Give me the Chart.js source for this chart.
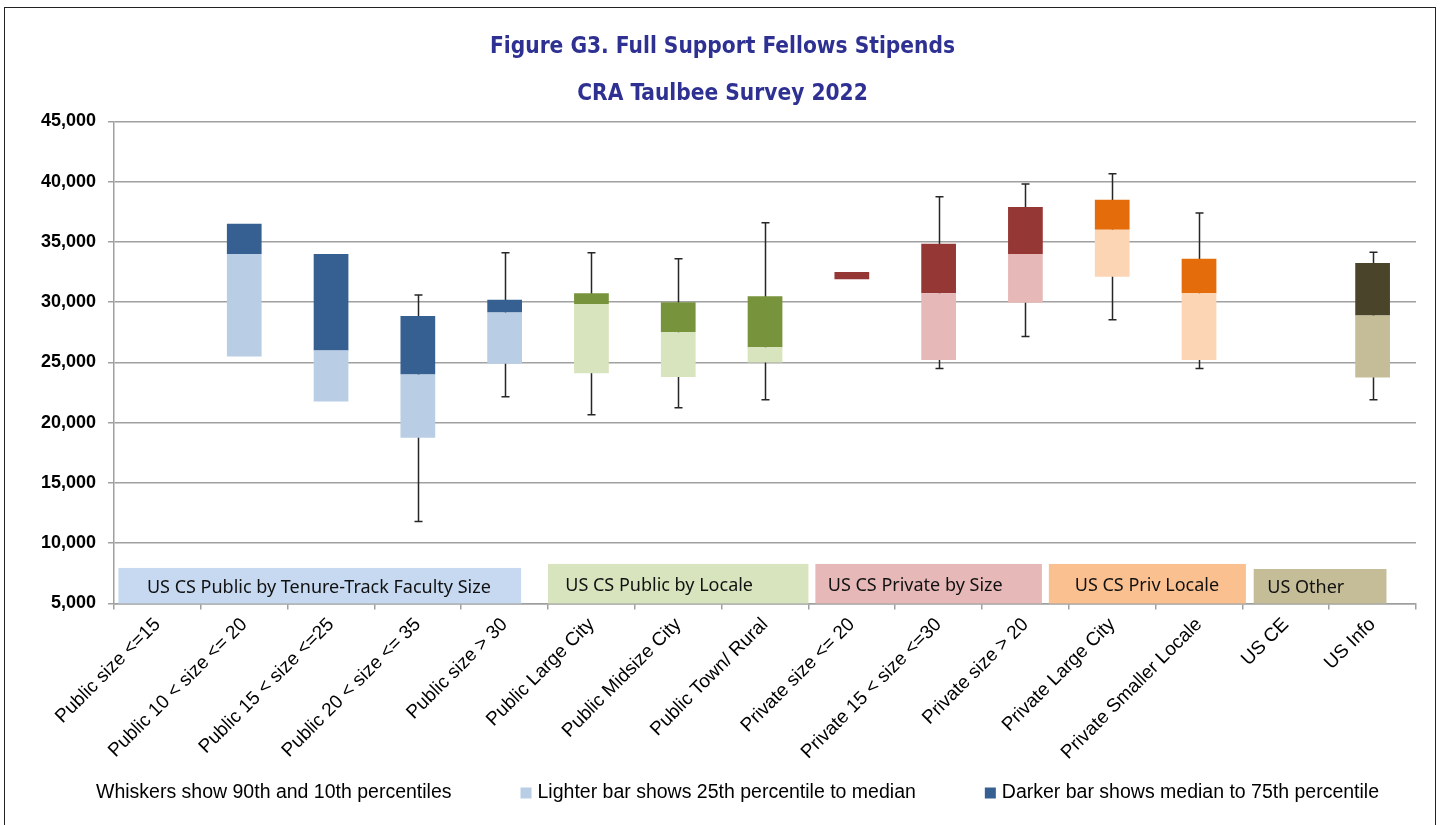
<!DOCTYPE html>
<html>
<head>
<meta charset="utf-8">
<script src="https://cdn.jsdelivr.net/npm/chart.js@4.4.0/dist/chart.umd.min.js"></script>
<style>
  html, body { margin: 0; padding: 0; background: #fff; }
  #wrap { position: relative; width: 1447px; height: 825px; overflow: hidden; }
  #frame { position: absolute; left: 4px; top: 7px; width: 1432px; height: 840px; border: 1.5px solid #222; pointer-events: none; box-sizing: border-box; }
</style>
</head>
<body>
<div id="wrap">
  <canvas id="stipendChart" width="1447" height="825"></canvas>
  <div id="frame"></div>
</div>
<script>
// =========================
// DATA
// =========================
const categories = [
  "Public size <=15", "Public 10 < size <= 20", "Public 15 < size <=25",
  "Public 20 < size <= 35", "Public size > 30", "Public Large City",
  "Public Midsize City", "Public Town/ Rural", "Private size <= 20",
  "Private 15 < size <=30", "Private size > 20", "Private Large City",
  "Private Smaller Locale", "US CE", "US Info"
];

const p10    = [null, null,  null,  11800, 22150, 20650, 21250, 21900, null,  24500, 27150, 28550, 24500, null, 21900];
const p25    = [null, 25500, 21750, 18750, 24900, 24100, 23800, 25000, 31900, 25200, 29950, 32100, 25200, null, 23750];
const median = [null, 34000, 26000, 24000, 29150, 29850, 27500, 26250, 31900, 30750, 34000, 36000, 30750, null, 28900];
const p75    = [null, 36500, 34000, 28850, 30200, 30750, 30000, 30500, 32500, 34850, 37900, 38500, 33600, null, 33250];
const p90    = [null, null,  null,  30600, 34100, 34100, 33600, 36600, null,  38750, 39800, 40650, 37400, null, 34150];

const yTicks = [5000, 10000, 15000, 20000, 25000, 30000, 35000, 40000, 45000];

// which group each category belongs to
const groupOf = [0, 0, 0, 0, 0, 1, 1, 1, 2, 2, 2, 3, 3, 4, 4];
const groupNames = [
  "US CS Public by Tenure-Track Faculty Size",
  "US CS Public by Locale",
  "US CS Private by Size",
  "US CS Priv Locale",
  "US Other"
];

const legendTexts = [
  "Whiskers show 90th and 10th percentiles",
  "Lighter bar shows 25th percentile to median",
  "Darker bar shows median to 75th percentile"
];

// =========================
// STYLE
// =========================
const lightColors = ["#b9cde5", "#d7e4bd", "#e6b9b8", "#fcd5b5", "#c4bd97"];
const darkColors  = ["#376092", "#77933c", "#953735", "#e46c0a", "#4a452a"];
const boxColors   = ["#c6d9f1", "#d7e4bd", "#e6b9b8", "#fac090", "#c4bd97"];
const legendSwatch = [null, lightColors[0], darkColors[0]];

// group label boxes (in category index / value units)
const groupBoxes = [
  { from: -0.45, to: 4.19,  top: 7950, textAt: 1.86 },
  { from: 4.5,   to: 7.5,   top: 8280, textAt: 5.78 },
  { from: 7.58,  to: 10.19, top: 8280, textAt: 8.73 },
  { from: 10.27, to: 12.54, top: 8280, textAt: 11.4 },
  { from: 12.63, to: 14.16, top: 7860, textAt: 13.23 }
];

const FONT = "'Liberation Sans', Arial, Helvetica, sans-serif";

// =========================
// PLUGINS
// =========================
const whiskerPlugin = {
  id: "whiskers",
  beforeDatasetsDraw(chart) {
    const { ctx, scales: { x, y } } = chart;
    ctx.save();
    ctx.strokeStyle = "#262626";
    ctx.lineWidth = 1.5;
    p10.forEach((lo, i) => {
      const hi = p90[i];
      if (lo == null || hi == null) return;
      const px = Math.round(x.getPixelForValue(i)) + 0.5;
      const yLo = y.getPixelForValue(lo);
      const yHi = y.getPixelForValue(hi);
      ctx.beginPath();
      ctx.moveTo(px, yLo); ctx.lineTo(px, yHi);
      ctx.moveTo(px - 4, yLo); ctx.lineTo(px + 4, yLo);
      ctx.moveTo(px - 4, yHi); ctx.lineTo(px + 4, yHi);
      ctx.stroke();
    });
    ctx.restore();
  }
};

const groupBoxPlugin = {
  id: "groupBoxes",
  afterDatasetsDraw(chart) {
    const { ctx, scales: { x, y } } = chart;
    ctx.save();
    groupBoxes.forEach((g, i) => {
      const left = x.getPixelForValue(g.from);
      const right = x.getPixelForValue(g.to);
      const top = y.getPixelForValue(g.top);
      const bottom = y.getPixelForValue(5000);
      ctx.fillStyle = boxColors[i];
      ctx.fillRect(left, top, right - left, bottom - top);

      ctx.fillStyle = "#111";
      ctx.font = "18px 'Noto Sans', 'Open Sans', sans-serif";
      ctx.textAlign = "center";
      ctx.textBaseline = "middle";
      ctx.fillText(groupNames[i], x.getPixelForValue(g.textAt), (top + bottom) / 2 + 2);
    });
    ctx.restore();
  }
};

// legend row under the axis labels
const noteLegendPlugin = {
  id: "noteLegend",
  afterDraw(chart) {
    const { ctx } = chart;
    const yMid = chart.height - 32;
    ctx.save();
    ctx.font = "19.5px " + FONT;
    ctx.textBaseline = "middle";
    ctx.textAlign = "left";
    let cx = 96;
    legendTexts.forEach((t, i) => {
      if (legendSwatch[i]) {
        ctx.fillStyle = legendSwatch[i];
        ctx.fillRect(cx, yMid - 5.5, 11, 11);
        cx += 17;
      }
      ctx.fillStyle = "#000";
      ctx.fillText(t, cx, yMid);
      cx += ctx.measureText(t).width + 69;
    });
    ctx.restore();
  }
};

// =========================
// CHART
// =========================
const ctx = document.getElementById("stipendChart").getContext("2d");

const stipendChart = new Chart(ctx, {
  type: "bar",
  data: {
    labels: categories,
    datasets: [
      {
        label: legendTexts[1],
        data: categories.map((_, i) => p25[i] == null ? null : [p25[i], median[i]]),
        backgroundColor: groupOf.map(g => lightColors[g]),
        grouped: false,
        barPercentage: 0.4,
        categoryPercentage: 1.0
      },
      {
        label: legendTexts[2],
        data: categories.map((_, i) => p75[i] == null ? null : [median[i], p75[i]]),
        backgroundColor: groupOf.map(g => darkColors[g]),
        grouped: false,
        barPercentage: 0.4,
        categoryPercentage: 1.0
      }
    ]
  },
  options: {
    responsive: false,
    animation: false,
    layout: { padding: { left: 29, right: 31, top: 0, bottom: 57 } },
    scales: {
      x: {
        offset: true,
        grid: {
          offset: true,
          drawOnChartArea: false,
          drawTicks: true,
          tickLength: 6,
          color: "#a0a0a0",
          lineWidth: 1.5
        },
        border: { color: "#a0a0a0", width: 1.5 },
        ticks: {
          minRotation: 45,
          maxRotation: 45,
          autoSkip: false,
          padding: 4,
          color: "#000",
          font: { family: FONT, size: 19 }
        }
      },
      y: {
        min: 5000,
        max: 45000,
        afterBuildTicks: (axis) => { axis.ticks = yTicks.map(v => ({ value: v })); },
        grid: {
          color: "#a0a0a0",
          lineWidth: 1.5,
          tickLength: 6
        },
        border: { color: "#a0a0a0", width: 1.5 },
        ticks: {
          padding: 12,
          color: "#000",
          font: { family: FONT, size: 18, weight: "bold" },
          callback: (v) => Number(v).toLocaleString("en-US")
        }
      }
    },
    plugins: {
      title: {
        display: true,
        text: ["Figure G3. Full Support Fellows Stipends", "CRA Taulbee Survey 2022"],
        color: "#2e3192",
        font: { family: "'DejaVu Sans Condensed', 'Liberation Sans Narrow', sans-serif", size: 22.5, weight: "bold", lineHeight: 2.12 },
        padding: { top: 23, bottom: 3 }
      },
      legend: { display: false },
      tooltip: { enabled: false }
    }
  },
  plugins: [whiskerPlugin, groupBoxPlugin, noteLegendPlugin]
});
</script>
</body>
</html>
